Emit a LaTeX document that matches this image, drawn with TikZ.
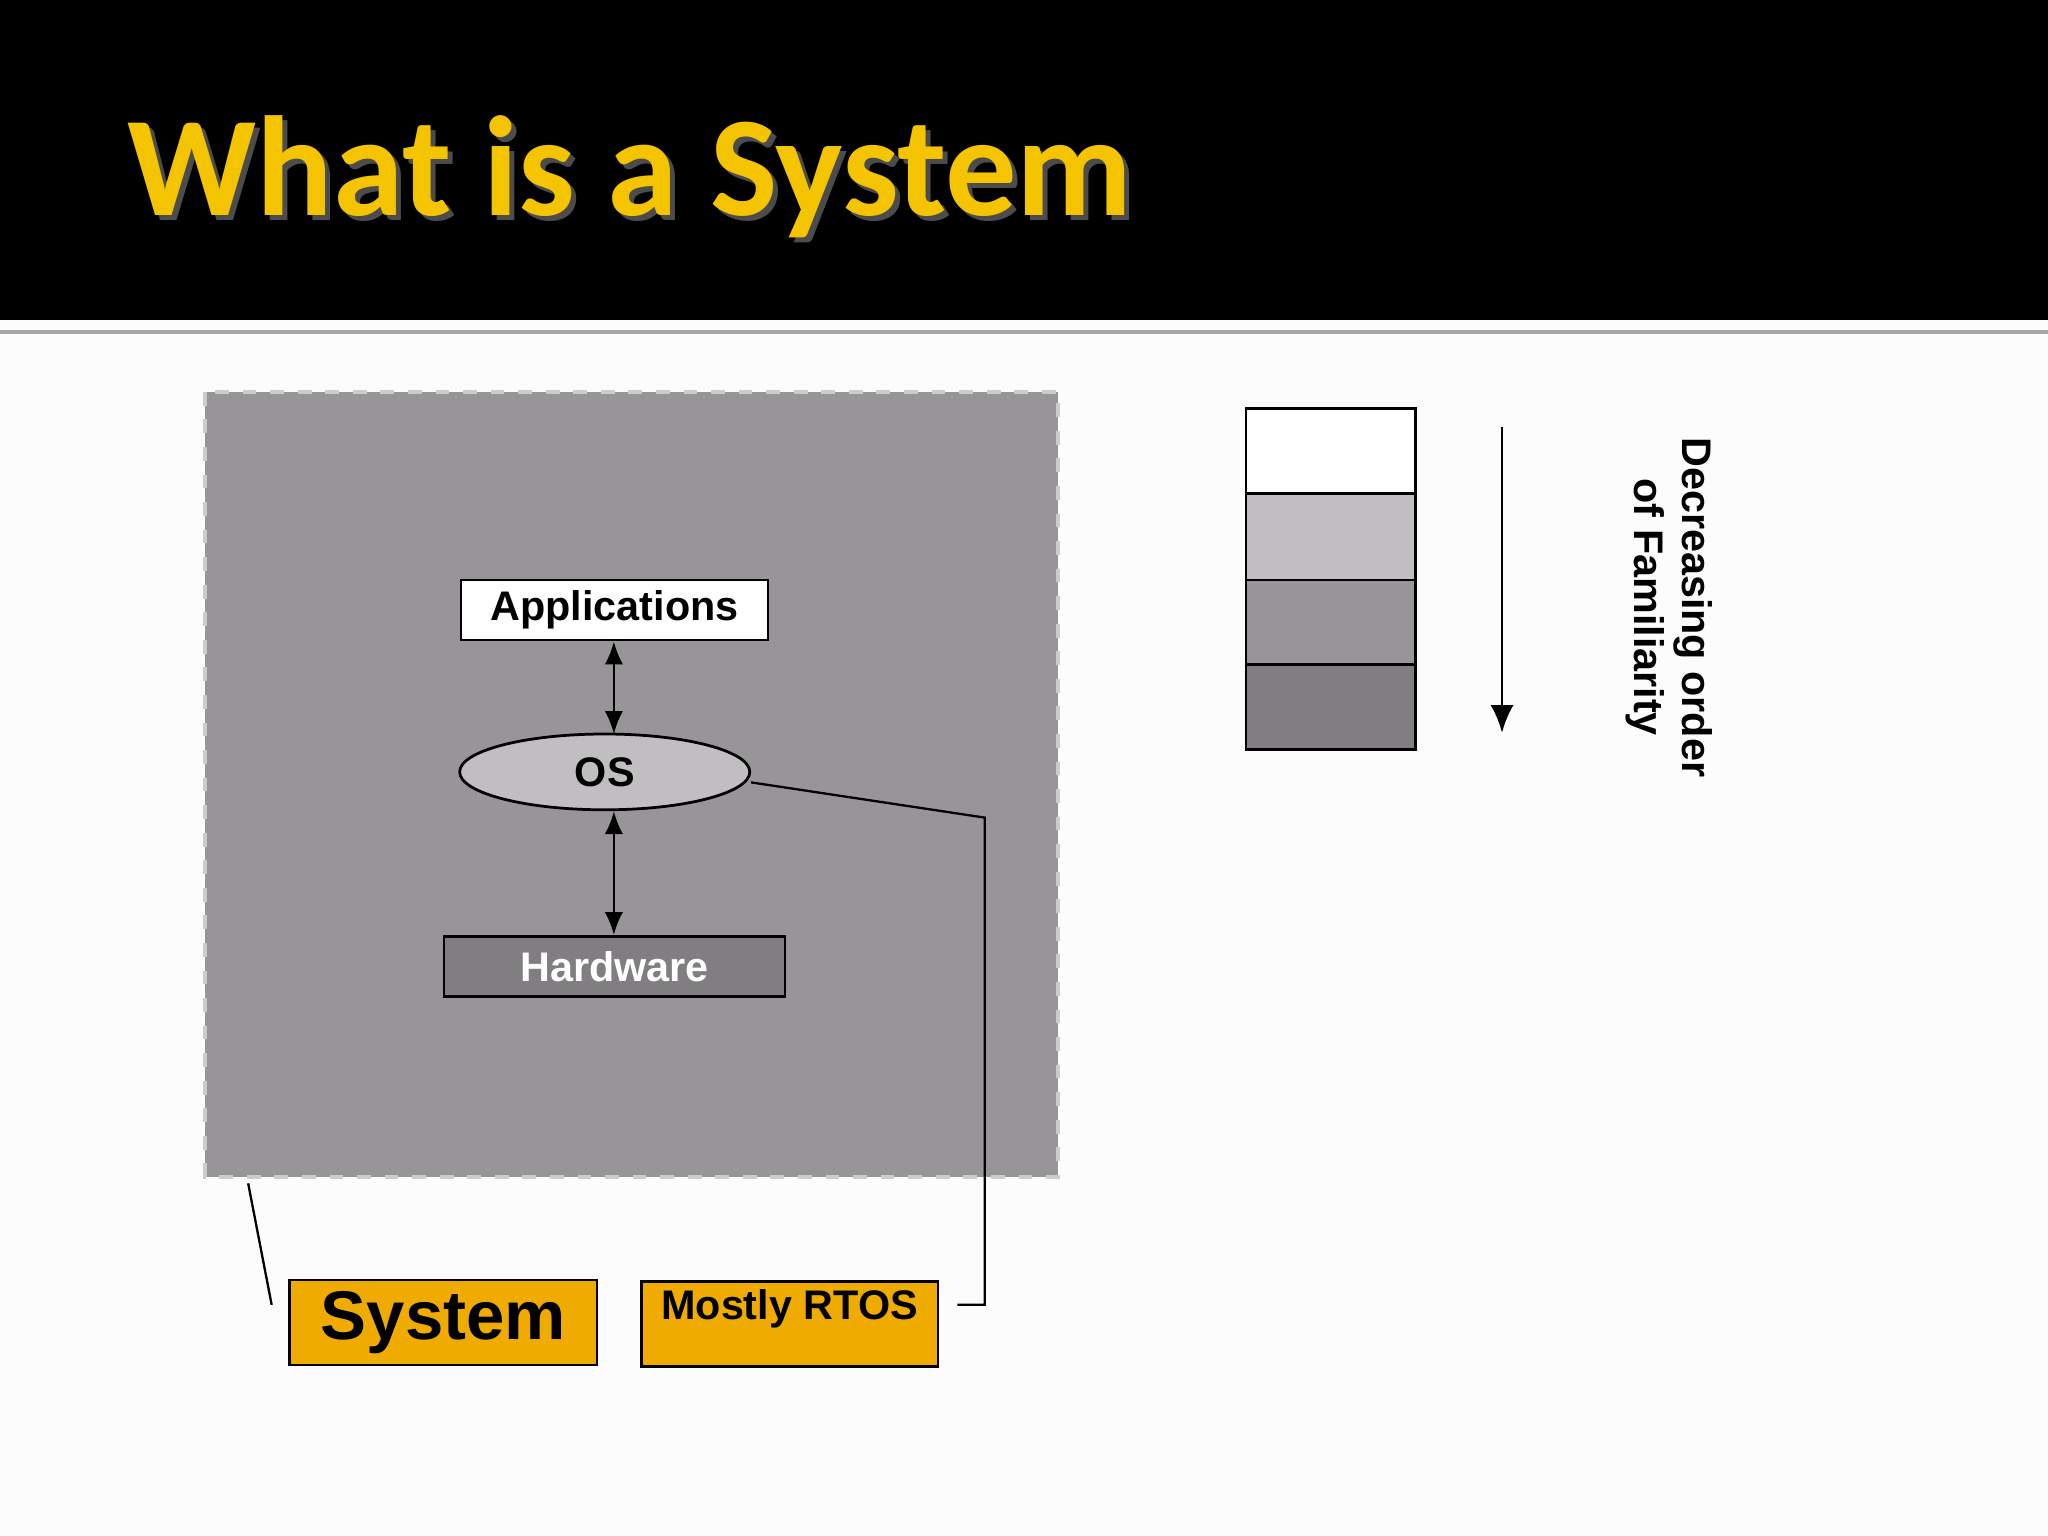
\documentclass[tikz,border=0pt]{standalone}
\usepackage{fontspec}
\setmainfont{Liberation Sans}
\newfontfamily\titlefont{Carlito}
\usetikzlibrary{shapes.geometric,arrows.meta}
\definecolor{gA}{HTML}{C0BEC0}
\definecolor{gB}{HTML}{979597}
\definecolor{gC}{HTML}{807E80}
\definecolor{ttl}{HTML}{F5C400}
\definecolor{org}{HTML}{F0AB00}
\tikzset{
  lbl/.style={draw=black,line width=0.6pt,inner sep=0pt,font=\bfseries\fontsize{9}{10}\selectfont},
  arr/.style={line width=0.6pt,{Latex[length=5pt,width=4pt]}-{Latex[length=5pt,width=4pt]}},
  conn/.style={line width=0.5pt},
}
\begin{document}
\begin{tikzpicture}[x=0.01cm,y=-0.01cm]
\fill[white!99!black] (0,0) rectangle (1568,1176);
\useasboundingbox (0,0) rectangle (1568,1176);
\fill[black] (0,0) rectangle (1568,245);
\fill[gray!70] (0,253) rectangle (1568,256);
\node[anchor=base west,inner sep=0pt,text=black!70,font=\titlefont\bfseries\fontsize{31}{36}\selectfont] at (101,169) {What is a System};
\node[anchor=base west,inner sep=0pt,text=ttl,font=\titlefont\bfseries\fontsize{31}{36}\selectfont] (title) at (97,165) {What is a System};
\draw[fill=gB,draw=gA!80,dashed,line width=0.8pt] (157,300) rectangle (810,901);
\node[lbl,fill=white,minimum width=2.35cm,minimum height=0.46cm] (app) at (470.5,467) {Applications};
\node[lbl,ellipse,fill=gA,minimum width=2.22cm,minimum height=0.58cm] (os) at (463,591) {OS};
\node[lbl,fill=gC,text=white,minimum width=2.61cm,minimum height=0.46cm] (hw) at (470.5,740) {Hardware};
\draw[arr] (app.south -| 470,0) -- (470,562);
\draw[arr] (470,621) -- (hw.north -| 470,0);
\node[lbl,fill=org,minimum width=2.35cm,minimum height=0.65cm,font=\bfseries\fontsize{15}{16}\selectfont] (sys) at (339.5,1012.5) {System};
\node[lbl,fill=org,minimum width=2.27cm,minimum height=0.65cm,anchor=north,text depth=0pt] (rtos) at (604.5,980) {};
\node[anchor=base,inner sep=0pt,font=\bfseries\fontsize{9}{10}\selectfont] at (604.5,1010) {Mostly RTOS};
\coordinate (c1) at (754,626);
\coordinate (c2) at (754,999);
\coordinate (c3) at (733,999);
\draw[conn] (575,599) -- (c1) -- (c2) -- (c3);
\coordinate (d1) at (190,906);
\coordinate (d2) at (208,999);
\draw[conn] (d1) -- (d2);
\draw[line width=0.6pt,fill=white] (954,313) rectangle (1084,378);
\draw[line width=0.6pt,fill=gA] (954,378) rectangle (1084,444);
\draw[line width=0.6pt,fill=gB] (954,444) rectangle (1084,509);
\draw[line width=0.6pt,fill=gC] (954,509) rectangle (1084,574);
\coordinate (a1) at (1150,327);
\coordinate (a2) at (1150,561);
\draw[line width=0.6pt,-{Latex[length=6pt,width=5pt]}] (a1) -- (a2);
\node[rotate=-90,align=center,inner sep=0pt,font=\bfseries\fontsize{9}{10.5}\selectfont] (dec) at (1278,465) {Decreasing order\\of Familiarity};
\end{tikzpicture}
\end{document}
